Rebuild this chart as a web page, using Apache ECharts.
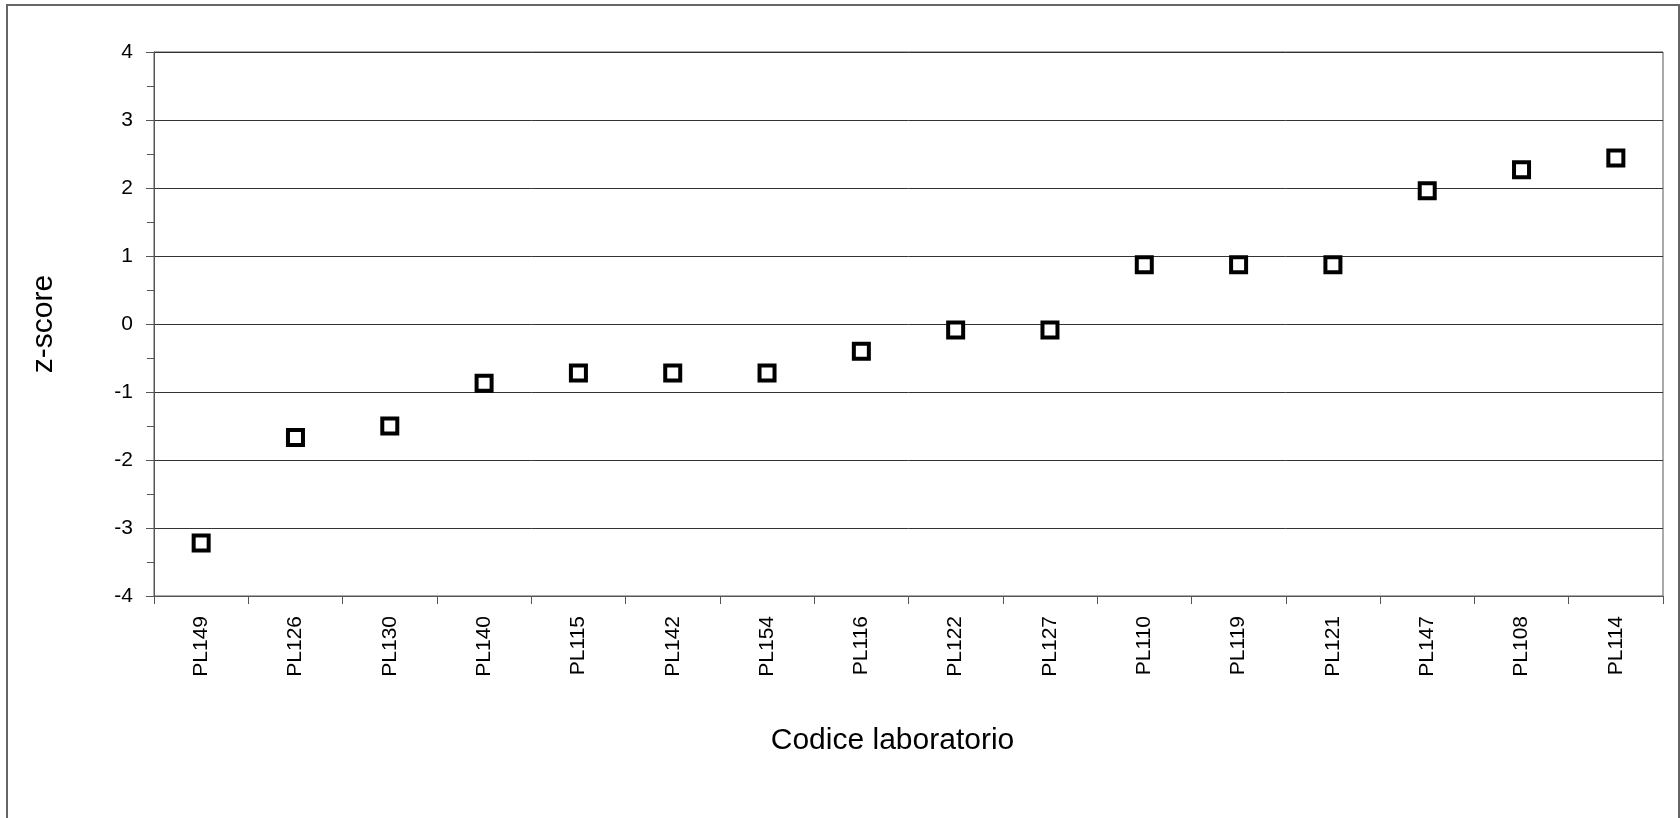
<!DOCTYPE html>
<html>
<head>
<meta charset="utf-8">
<script src="https://cdn.jsdelivr.net/npm/echarts@6/dist/echarts.min.js"></script>
<style>
  html, body { margin: 0; padding: 0; background: #fff; }
  #frame { position: absolute; left: 6px; top: 4px; width: 1670px; height: 900px; border: 2px solid #666; }
  #main { position: absolute; left: 0; top: 0; width: 1680px; height: 818px; }
</style>
</head>
<body>
<div id="frame"></div>
<div id="main"></div>
<script>
var labCodes = ["PL149", "PL126", "PL130", "PL140", "PL115", "PL142", "PL154", "PL116",
  "PL122", "PL127", "PL110", "PL119", "PL121", "PL147", "PL108", "PL114"];
var zScores = [-3.22, -1.67, -1.5, -0.87, -0.72, -0.72, -0.72, -0.4,
  -0.09, -0.09, 0.87, 0.87, 0.87, 1.96, 2.27, 2.44];

window.onload = function () {
  var chartDom = document.getElementById("main");
  var myChart = echarts.init(chartDom);
  var font = "'Liberation Sans', Arial, sans-serif";

  var option = {
    animation: false,
    grid: {
      left: 154,
      right: 17,
      top: 52,
      bottom: 222,
      show: true,
      borderColor: "#555",
      borderWidth: 1
    },
    xAxis: {
      type: "category",
      data: labCodes,
      boundaryGap: true,
      name: "Codice laboratorio",
      nameLocation: "middle",
      nameGap: 130,
      nameTextStyle: { fontFamily: font, fontSize: 30, color: "#000", padding: [0, 32, 0, 0] },
      axisLine: { onZero: false, lineStyle: { color: "#555", width: 1 } },
      axisTick: { show: true, length: 8, lineStyle: { color: "#555" } },
      axisLabel: { rotate: 90, margin: 20, fontFamily: font, fontSize: 21, color: "#000" },
      splitLine: { show: false }
    },
    yAxis: {
      type: "value",
      min: -4,
      max: 4,
      interval: 1,
      name: "z-score",
      nameLocation: "middle",
      nameGap: 95,
      nameTextStyle: { fontFamily: font, fontSize: 30, color: "#000" },
      axisLine: { show: true, lineStyle: { color: "#555", width: 1 } },
      axisTick: { show: true, length: 8, lineStyle: { color: "#555" } },
      minorTick: { show: true, splitNumber: 2, length: 7, lineStyle: { color: "#555" } },
      axisLabel: { margin: 21, fontFamily: font, fontSize: 21, color: "#000" },
      splitLine: { show: true, lineStyle: { color: "#333", width: 1 } }
    },
    series: [
      {
        type: "scatter",
        data: zScores,
        symbol: "rect",
        symbolSize: 15,
        itemStyle: { color: "#fff", borderColor: "#000", borderWidth: 4, opacity: 1 }
      }
    ]
  };

  myChart.setOption(option);
};
</script>
</body>
</html>
